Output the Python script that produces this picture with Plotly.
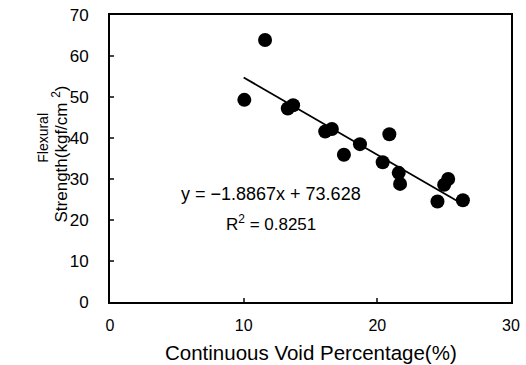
import plotly.graph_objects as go

void_pct = [10.05, 11.6, 13.3, 13.7, 16.1, 16.6, 17.5, 18.7, 20.4, 20.9, 21.6, 21.7, 24.5, 25.0, 25.3, 26.4]
strength = [49.3, 63.9, 47.2, 48.0, 41.6, 42.2, 35.9, 38.5, 34.1, 40.9, 31.5, 28.8, 24.5, 28.6, 30.0, 24.8]

slope = -1.8867
intercept = 73.628
fit_x = [10.0, 26.4]
fit_y = [slope * v + intercept for v in fit_x]

x_ticks = [0, 10, 20, 30]
y_ticks = [0, 10, 20, 30, 40, 50, 60, 70]

font = "Liberation Sans, Arial, sans-serif"

fig = go.Figure()
fig.add_trace(go.Scatter(x=void_pct, y=strength, mode="markers",
                         marker=dict(size=14, color="black"), showlegend=False))
fig.add_trace(go.Scatter(x=fit_x, y=fit_y, mode="lines",
                         line=dict(color="black", width=1.8), showlegend=False))

fig.add_annotation(x=12.06, y=26.3, xref="x", yref="y", text="y = \u22121.8867x + 73.628",
                   showarrow=False, xanchor="center", yanchor="middle",
                   font=dict(family=font, size=18, color="black"))
fig.add_annotation(x=12.06, y=19.2, xref="x", yref="y", text="R<sup>2</sup> = 0.8251",
                   showarrow=False, xanchor="center", yanchor="middle",
                   font=dict(family=font, size=17, color="black"))
fig.add_annotation(x=-0.169, y=0.573, xref="paper", yref="paper",
                   text="Flexural", textangle=-90, xanchor="center", yanchor="middle",
                   showarrow=False, font=dict(family=font, size=14, color="black"))
fig.add_annotation(x=-0.125, y=0.517, xref="paper", yref="paper",
                   text="Strength(kgf/cm <sup>2</sup>)", textangle=-90,
                   xanchor="center", yanchor="middle",
                   showarrow=False, font=dict(family=font, size=17, color="black"))
fig.add_annotation(x=0.5, y=-0.175, xref="paper", yref="paper",
                   text="Continuous Void Percentage(%)", xanchor="center", yanchor="middle",
                   showarrow=False, font=dict(family=font, size=20.5, color="black"))

fig.update_layout(
    width=526, height=365,
    margin=dict(l=110, r=6, t=10, b=63),
    paper_bgcolor="white", plot_bgcolor="white",
    font=dict(family=font, size=16, color="black"),
)
fig.update_xaxes(range=[0, 30], tickvals=x_ticks, ticks="inside", ticklen=4, tickwidth=2,
                 showline=True, linecolor="black", linewidth=2, mirror=True,
                 showgrid=False, zeroline=False, ticklabelstandoff=8,
                 ticklabeloverflow="allow",
                 tickfont=dict(family=font, size=16))
fig.update_yaxes(range=[0, 70], tickvals=y_ticks, ticks="inside", ticklen=4, tickwidth=2,
                 showline=True, linecolor="black", linewidth=2, mirror=True,
                 showgrid=False, zeroline=False, ticklabelstandoff=16,
                 ticklabeloverflow="allow",
                 tickfont=dict(family=font, size=17))

fig.write_html("out.html", config={"displayModeBar": False},
               post_script="document.body.style.margin='0';document.body.style.overflow='hidden';")
